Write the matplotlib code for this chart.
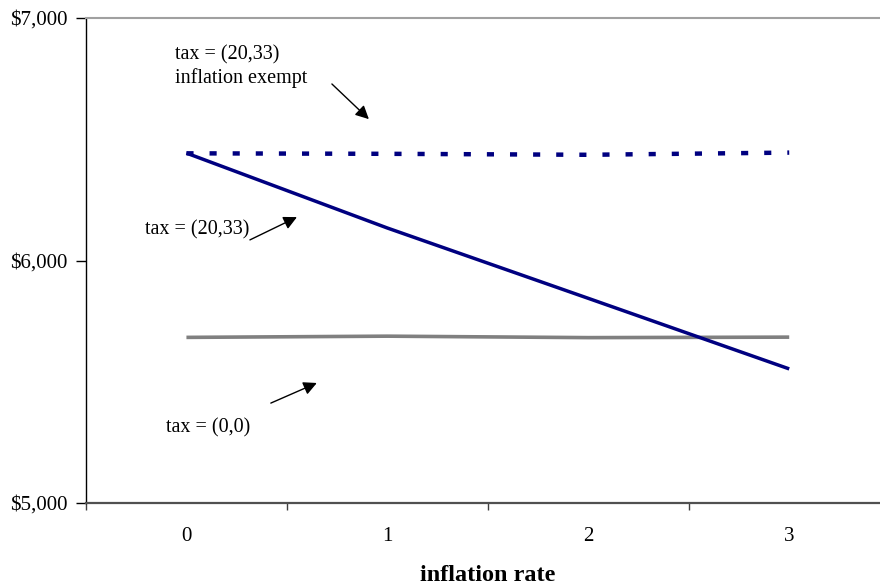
import numpy as np
import matplotlib.pyplot as plt

plt.rcParams['font.family'] = ['Liberation Serif', 'DejaVu Serif']

# values
inflation = [0, 1, 2, 3]
cat_labels = ["0", "1", "2", "3"]
exempt = [6442, 6440, 6436, 6445]    # tax = (20,33) inflation exempt
taxed = [6443, 6134, 5844, 5553]     # tax = (20,33)
notax = [5683, 5688, 5682, 5684]     # tax = (0,0)

navy = "#000080"

fig = plt.figure(figsize=(8.8, 5.87), dpi=100)
ax = fig.add_axes([0.0977, 0.1431, 0.9133, 0.8262])

ax.plot(inflation, notax, color="#808080", lw=2.6, solid_capstyle="butt")
ax.plot(inflation, taxed, color=navy, lw=2.5, solid_capstyle="butt")
ax.plot(inflation, exempt, color=navy, lw=3.2, dashes=(1.6, 3.6),
        dash_capstyle="butt")

ax.set_xlim(-0.5, 3.5)
ax.set_ylim(5000, 7000)

ax.set_xticks(inflation)
ax.set_xticklabels(cat_labels, fontsize=15)
ax.set_xticks(np.arange(-0.5, 3.6, 1.0), minor=True)
ax.tick_params(axis="x", which="major", length=0, pad=17)
ax.tick_params(axis="x", which="minor", length=5, width=1, color="#404040")

ax.set_yticks([5000, 6000, 7000])
ax.set_yticklabels(["$5,000", "$6,000", "$7,000"], fontsize=15)
ax.tick_params(axis="y", length=7, width=1, pad=6)

ax.set_xlabel("inflation rate", fontsize=17.5, fontweight="bold", labelpad=14)

ax.spines["right"].set_visible(False)
ax.spines["top"].set_color("#a0a0a0")
ax.spines["top"].set_linewidth(1.5)
ax.spines["bottom"].set_color("#505050")
ax.spines["bottom"].set_linewidth(1.6)
ax.spines["left"].set_color("black")
ax.spines["left"].set_linewidth(1.0)

arrow = dict(arrowstyle="-|>", color="black", lw=1.0, mutation_scale=20,
             shrinkA=0, shrinkB=0)

ax.text(-0.057, 6800, "tax = (20,33)\ninflation exempt", fontsize=14.5,
        ha="left", va="center", linespacing=1.25)
ax.annotate("", xy=(0.908, 6583), xytext=(0.724, 6728), arrowprops=arrow)

ax.text(-0.206, 6126, "tax = (20,33)", fontsize=14.5, ha="left", va="center")
ax.annotate("", xy=(0.550, 6179), xytext=(0.316, 6085), arrowprops=arrow)

ax.text(-0.102, 5309, "tax = (0,0)", fontsize=14.5, ha="left", va="center")
ax.annotate("", xy=(0.649, 5495), xytext=(0.420, 5412), arrowprops=arrow)

fig.savefig("out.png", dpi=100)
